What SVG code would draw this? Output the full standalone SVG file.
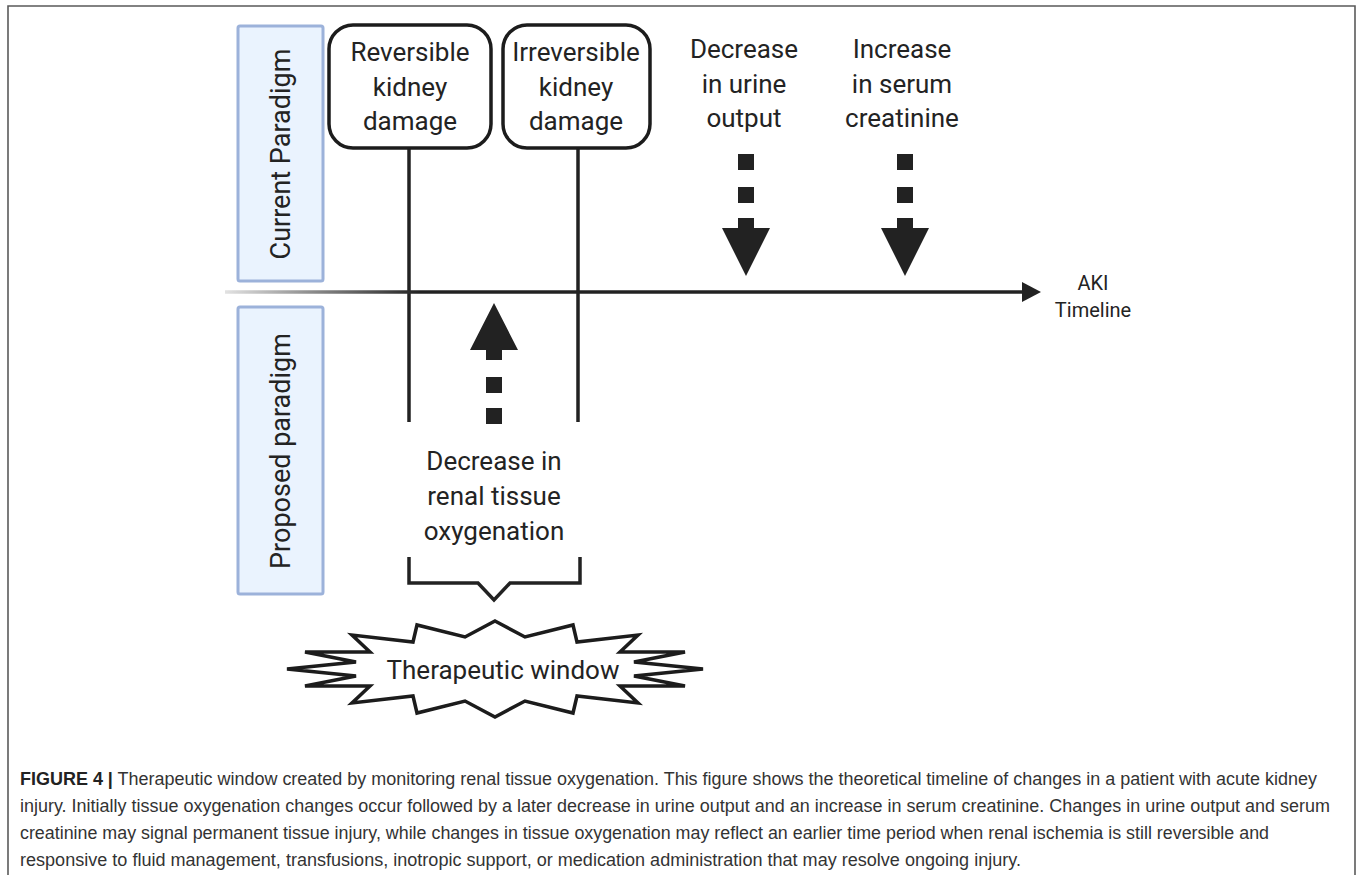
<svg xmlns="http://www.w3.org/2000/svg" width="1357" height="875" viewBox="0 0 1357 875">
<defs>
<style>
.lbl{font-family:Roboto,"Liberation Sans",sans-serif;font-size:26px;fill:#232323;text-anchor:middle}
.vlbl{font-family:Roboto,"Liberation Sans",sans-serif;font-size:27px;fill:#232323;text-anchor:middle}
.sm{font-family:Roboto,"Liberation Sans",sans-serif;font-size:20px;fill:#232323;text-anchor:middle}
.band{fill:#eaf3fe;stroke:#9cb2da;stroke-width:3}
.box{fill:#fff;stroke:#1c1c1c;stroke-width:3.5}
.ln{fill:none;stroke:#222;stroke-width:3.5}
.blk{fill:#222}
.cap{font-family:"Liberation Sans",Arial,sans-serif;font-size:17.5px;fill:#333}
</style>
<linearGradient id="fade" gradientUnits="userSpaceOnUse" x1="225" y1="0" x2="420" y2="0">
<stop offset="0" stop-color="#e2e2e2"/>
<stop offset="1" stop-color="#222"/>
</linearGradient>
</defs>
<rect width="1357" height="875" fill="#fff"/>
<path d="M8,878 V6 H1355 V878" fill="none" stroke="#5a5a5a" stroke-width="1.6"/>

<g id="band-current">
<rect class="band" x="238" y="26" width="85" height="255" rx="2"/>
<text class="vlbl" transform="translate(290,154) rotate(-90)">Current Paradigm</text>
</g>
<g id="band-proposed">
<rect class="band" x="238" y="307" width="85" height="287" rx="2"/>
<text class="vlbl" transform="translate(290,451) rotate(-90)">Proposed paradigm</text>
</g>

<g id="connectors">
<line class="ln" x1="409" y1="148" x2="409" y2="422"/>
<line class="ln" x1="578" y1="148" x2="578" y2="422"/>
<line x1="225" y1="292" x2="1024" y2="292" stroke="url(#fade)" stroke-width="3.5"/>
<polygon class="blk" points="1022,282 1041,292 1022,302"/>
<g id="arrow-urine">
<rect class="blk" x="738" y="154" width="16" height="16"/>
<rect class="blk" x="738" y="187" width="16" height="16"/>
<polygon class="blk" points="738,218 754,218 754,228 770,228 746,276 722,228 738,228"/>
</g>
<g id="arrow-creat">
<rect class="blk" x="897" y="154" width="16" height="16"/>
<rect class="blk" x="897" y="187" width="16" height="16"/>
<polygon class="blk" points="897,218 913,218 913,228 929,228 905,276 881,228 897,228"/>
</g>
<g id="arrow-oxy">
<rect class="blk" x="486" y="408" width="16" height="16"/>
<rect class="blk" x="486" y="377" width="16" height="16"/>
<polygon class="blk" points="486,360 502,360 502,350 518,350 494,303 470,350 486,350"/>
</g>
<path class="ln" d="M409,557 V583 H478 L494,600 L510,583 H580 V557" stroke-linejoin="miter"/>
</g>

<g id="node-reversible">
<rect class="box" x="329" y="25" width="162" height="123" rx="24"/>
<text class="lbl" x="410" y="61">Reversible</text>
<text class="lbl" x="410" y="96">kidney</text>
<text class="lbl" x="410" y="130">damage</text>
</g>
<g id="node-irreversible">
<rect class="box" x="503" y="25" width="147" height="123" rx="24"/>
<text class="lbl" x="576" y="61">Irreversible</text>
<text class="lbl" x="576" y="96">kidney</text>
<text class="lbl" x="576" y="130">damage</text>
</g>
<g id="node-urine">
<text class="lbl" x="744" y="58">Decrease</text>
<text class="lbl" x="744" y="93">in urine</text>
<text class="lbl" x="744" y="127">output</text>
</g>
<g id="node-creatinine">
<text class="lbl" x="902" y="58">Increase</text>
<text class="lbl" x="902" y="93">in serum</text>
<text class="lbl" x="902" y="127">creatinine</text>
</g>
<g id="node-aki">
<text class="sm" x="1093" y="290">AKI</text>
<text class="sm" x="1093" y="317">Timeline</text>
</g>
<g id="node-oxygenation">
<text class="lbl" x="494" y="470">Decrease in</text>
<text class="lbl" x="494" y="505">renal tissue</text>
<text class="lbl" x="494" y="540">oxygenation</text>
</g>
<g id="node-window">
<polygon fill="#fff" stroke="#1c1c1c" stroke-width="3.5" stroke-linejoin="miter" points="495,621 525,637 573,625 577,642 638,635 620,652 685,652 634,662 703,669 634,676 685,686 620,686 638,703 577,696 573,713 525,701 495,717 465,701 417,713 413,696 352,703 370,686 305,686 356,676 287,669 356,662 305,652 370,652 352,635 413,642 417,625 465,637"/>
<text class="lbl" x="503" y="679">Therapeutic window</text>
</g>

<g id="caption">
<text class="cap" x="20" y="785" textLength="1297" lengthAdjust="spacingAndGlyphs"><tspan font-weight="bold" fill="#222">FIGURE 4 |</tspan> Therapeutic window created by monitoring renal tissue oxygenation. This figure shows the theoretical timeline of changes in a patient with acute kidney</text>
<text class="cap" x="20" y="812" textLength="1310" lengthAdjust="spacingAndGlyphs">injury. Initially tissue oxygenation changes occur followed by a later decrease in urine output and an increase in serum creatinine. Changes in urine output and serum</text>
<text class="cap" x="20" y="839" textLength="1249" lengthAdjust="spacingAndGlyphs">creatinine may signal permanent tissue injury, while changes in tissue oxygenation may reflect an earlier time period when renal ischemia is still reversible and</text>
<text class="cap" x="20" y="866" textLength="1001" lengthAdjust="spacingAndGlyphs">responsive to fluid management, transfusions, inotropic support, or medication administration that may resolve ongoing injury.</text>
</g>
</svg>
